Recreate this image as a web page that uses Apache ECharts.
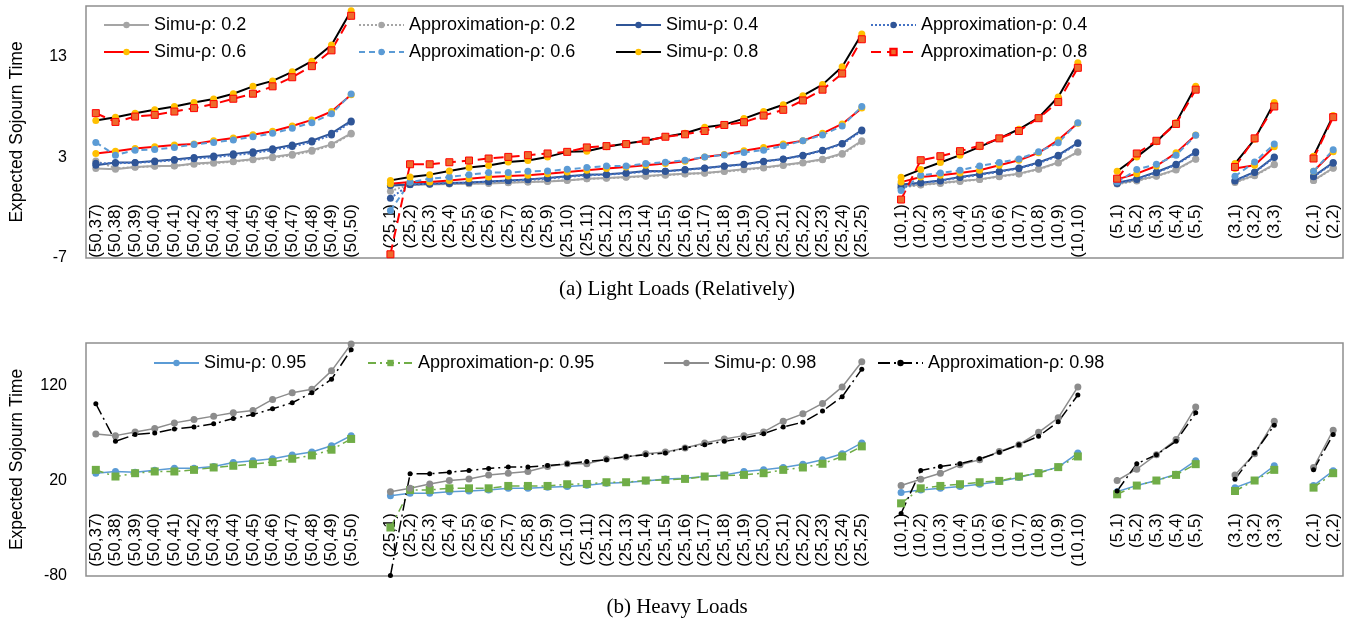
<!DOCTYPE html>
<html><head><meta charset="utf-8">
<script src="https://cdn.jsdelivr.net/npm/echarts@6/dist/echarts.min.js"></script>
<style>html,body{margin:0;padding:0;background:#fff}#c{width:1354px;height:623px}</style>
</head><body><div id="c"></div>
<script>
const categories = [
'(50,37)','(50,38)','(50,39)','(50,40)','(50,41)','(50,42)','(50,43)','(50,44)','(50,45)','(50,46)','(50,47)','(50,48)','(50,49)','(50,50)','',
'(25,1)','(25,2)','(25,3)','(25,4)','(25,5)','(25,6)','(25,7)','(25,8)','(25,9)','(25,10)','(25,11)','(25,12)','(25,13)','(25,14)','(25,15)','(25,16)','(25,17)','(25,18)','(25,19)','(25,20)','(25,21)','(25,22)','(25,23)','(25,24)','(25,25)','',
'(10,1)','(10,2)','(10,3)','(10,4)','(10,5)','(10,6)','(10,7)','(10,8)','(10,9)','(10,10)','',
'(5,1)','(5,2)','(5,3)','(5,4)','(5,5)','',
'(3,1)','(3,2)','(3,3)','',
'(2,1)','(2,2)'];

// Light loads
const simu02 = [1.87,1.8,2.03,2.13,2.13,2.37,2.47,2.6,2.8,3.03,3.3,3.7,4.27,5.37, null, 0.17,0.27,0.3,0.33,0.37,0.4,0.47,0.53,0.6,0.7,0.87,0.93,1.03,1.13,1.27,1.37,1.43,1.6,1.8,1.97,2.23,2.47,2.8,3.37,4.63, null, 0.13,0.27,0.43,0.63,0.8,1.1,1.37,1.83,2.47,3.53, null, 0.37,0.7,1.13,1.77,2.83, null, 0.53,1.2,2.3, null, 0.7,1.93];
const approx02 = [2.63,1.9,2.0,2.1,2.15,2.3,2.4,2.55,2.75,2.95,3.2,3.6,4.2,5.3, null, -0.37,0.3,0.33,0.36,0.4,0.43,0.5,0.55,0.62,0.72,0.85,0.92,1.0,1.1,1.22,1.33,1.42,1.57,1.75,1.93,2.18,2.43,2.75,3.3,4.55, null, 0.0,0.25,0.4,0.6,0.78,1.07,1.33,1.8,2.43,3.5, null, 0.33,0.65,1.1,1.73,2.8, null, 0.5,1.15,2.25, null, 0.68,1.9];
const simu04 = [2.2,2.47,2.47,2.63,2.77,2.97,3.13,3.33,3.53,3.83,4.2,4.63,5.37,6.6, null, 0.2,0.3,0.37,0.43,0.5,0.6,0.7,0.8,0.93,1.1,1.27,1.3,1.43,1.63,1.6,1.77,1.93,2.13,2.3,2.6,2.83,3.2,3.7,4.37,5.7, null, 0.3,0.47,0.7,1.03,1.3,1.6,1.93,2.47,3.2,4.43, null, 0.47,0.87,1.53,2.3,3.53, null, 0.7,1.53,3.03, null, 1.1,2.47];
const approx04 = [2.4,2.4,2.45,2.55,2.7,2.85,3.0,3.2,3.4,3.7,4.05,4.5,5.2,6.5, null, -1.07,0.3,0.35,0.4,0.48,0.57,0.66,0.76,0.88,1.05,1.2,1.27,1.4,1.57,1.6,1.73,1.9,2.1,2.27,2.55,2.8,3.15,3.65,4.3,5.6, null, -0.03,0.45,0.65,0.98,1.25,1.55,1.88,2.4,3.12,4.35, null, 0.4,0.8,1.45,2.25,3.45, null, 0.65,1.48,2.98, null, 1.05,2.4];
const simu06 = [3.37,3.6,3.87,4.03,4.2,4.3,4.63,4.9,5.23,5.57,6.1,6.7,7.53,9.2, null, 0.37,0.53,0.53,0.7,0.87,1.03,1.13,1.2,1.37,1.53,1.7,1.87,2.03,2.2,2.37,2.6,3.03,3.27,3.63,3.97,4.3,4.63,5.37,6.3,7.87, null, 0.53,1.03,1.2,1.43,1.7,2.2,2.7,3.43,4.7,6.37, null, 0.8,1.37,2.13,3.43,5.2, null, 1.87,2.2,4.03, null, 1.6,3.55];
const approx06 = [4.47,3.2,3.7,3.77,3.97,4.27,4.47,4.7,5.03,5.37,5.87,6.43,7.3,9.27, null, -2.3,0.53,0.87,1.03,1.27,1.47,1.47,1.6,1.63,1.8,1.97,2.13,2.13,2.37,2.5,2.7,3.03,3.23,3.47,3.7,4.13,4.63,5.2,6.1,8.03, null, -0.3,1.2,1.43,1.7,2.13,2.47,2.83,3.53,4.43,6.43, null, 0.53,1.77,2.3,3.2,5.17, null, 1.1,2.53,4.3, null, 1.6,3.73];
const simu08 = [6.63,6.97,7.37,7.7,8.03,8.43,8.77,9.3,10.03,10.57,11.47,12.53,14.13,17.53, null, 0.7,1.03,1.27,1.63,1.97,2.17,2.53,2.67,3.03,3.53,3.6,4.03,4.37,4.63,5.03,5.37,5.97,6.23,6.83,7.53,8.2,9.1,10.2,11.97,15.23, null, 1.0,1.77,2.47,3.2,4.03,4.87,5.77,6.93,8.97,12.37, null, 1.6,3.03,4.53,6.43,10.03, null, 2.37,4.77,8.43, null, 3.1,7.13];
const approx08 = [7.37,6.5,7.03,7.2,7.53,7.87,8.27,8.8,9.3,10.03,10.93,12.03,13.6,17.03, null, -6.63,2.3,2.3,2.5,2.67,2.87,3.03,3.2,3.37,3.53,3.97,4.1,4.3,4.63,5.03,5.27,5.6,6.2,6.47,7.13,7.7,8.63,9.7,11.3,14.7, null, -1.2,2.7,3.1,3.6,4.13,4.87,5.6,6.87,8.47,11.87, null, 0.87,3.37,4.63,6.3,9.7, null, 2.03,4.87,8.03, null, 2.87,6.97];

// Heavy loads
const simu095 = [28.1,29.9,29.2,31.3,33.4,33.4,35.2,39.4,41.2,43.3,47.2,50.3,57.0,67.6, null, 4.5,7.0,7.0,8.7,9.4,10.5,12.2,12.2,13.3,14.0,15.4,17.5,18.2,20.0,22.1,22.8,24.6,26.3,29.9,31.6,34.1,37.6,42.2,48.6,59.9, null, 7.7,10.5,12.2,14.0,16.5,19.3,23.5,28.8,34.5,49.3, null, 8.7,15.1,20.4,27.1,41.2, null, 12.9,20.4,35.9, null, 15.1,30.6];
const approx095 = [31.6,24.6,28.1,29.9,29.9,31.6,34.1,35.9,37.6,39.8,43.3,46.8,52.8,64.1, null, -29.0,10.5,10.5,12.2,12.2,12.2,14.7,14.7,14.7,16.5,16.8,18.6,18.6,20.4,21.1,22.1,24.6,25.6,26.3,28.1,31.6,34.1,38.0,45.7,56.3, null, -3.6,12.2,14.7,16.5,18.6,20.0,24.6,28.1,34.5,45.7, null, 5.9,15.1,20.4,26.3,37.6, null, 9.4,20.4,31.6, null, 12.9,28.1];
const simu098 = [69.4,67.6,71.5,75.0,81.0,84.6,88.1,91.6,94.1,105.7,112.8,116.3,135.7,163.9, null, 8.7,12.2,16.8,20.4,22.1,26.3,28.1,29.9,35.2,38.0,38.0,42.9,45.0,48.6,50.3,54.6,59.9,64.1,67.6,71.5,82.8,90.5,101.5,118.8,145.2, null, 15.1,21.8,28.1,36.9,42.2,51.0,58.1,71.1,86.3,118.8, null, 20.4,32.3,47.5,63.4,97.6, null, 26.3,48.6,82.8, null, 34.1,73.3];
const approx098 = [101.1,61.6,68.7,70.4,74.7,76.8,80.0,85.6,89.8,95.8,102.2,112.8,126.9,157.9, null, -79.5,27.4,27.4,29.2,30.9,33.1,34.5,34.5,36.2,38.0,40.5,42.2,45.7,47.5,49.3,54.6,58.1,61.6,65.1,69.7,76.8,81.7,93.4,108.5,137.5, null, -14.2,30.9,35.2,38.0,43.3,50.0,58.1,66.9,82.1,110.3, null, 9.4,38.0,47.5,61.6,91.6, null, 21.8,49.3,78.6, null, 31.6,68.7];

const FONT = 'Liberation Sans';
const chart = echarts.init(document.getElementById('c'), null, {renderer:'canvas'});

function ln(name, data, gi, color, lineType, symColor, symbol, symSize, width, border) {
  return {
    name, type:'line', data, xAxisIndex:gi, yAxisIndex:gi,
    symbol: symbol || 'circle', symbolSize: symSize || 7,
    lineStyle:{color, width: width || 2, type: lineType},
    itemStyle:{color: symColor || color, borderColor: border || (symColor || color), borderWidth: border ? 1 : 0},
    connectNulls:false, animation:false
  };
}
function lg(name, left, top) {
  return {data:[name], left, top, padding:0, itemWidth:45, itemHeight:8, itemGap:0,
    textStyle:{fontSize:18, fontFamily:FONT, color:'#000'}};
}
const yAx = (min, max, interval) => ({
  type:'value', min, max, interval, gridIndex:0,
  axisLine:{show:false}, axisTick:{show:false}, splitLine:{show:false},
  axisLabel:{showMaxLabel:false, fontSize:16, fontFamily:FONT, color:'#000', margin:19},
  name:'Expected Sojourn Time', nameLocation:'middle', nameGap:60,
  nameTextStyle:{fontSize:17.5, fontFamily:FONT, color:'#000'}
});
const xAx = (gi, offset) => ({
  type:'category', data:categories, gridIndex:gi, offset, boundaryGap:true,
  axisLine:{show:false}, axisTick:{show:false}, splitLine:{show:false},
  axisLabel:{interval:0, rotate:90, fontSize:17, fontFamily:FONT, color:'#000', margin:2}
});

const y0 = yAx(-7, 18, 10); y0.gridIndex = 0;
const y1 = yAx(-80, 165, 100); y1.gridIndex = 1;

chart.setOption({
  animation:false,
  grid:[
    {left:82, top:6, width:1261, height:252, show:true, borderColor:'#8e8e8e', borderWidth:1.5},
    {left:82, top:343, width:1261, height:233, show:true, borderColor:'#8e8e8e', borderWidth:1.5}
  ],
  xAxis:[xAx(0, -56), xAx(1, -65)],
  yAxis:[y0, y1],
  legend:[
    lg('Simu-ρ: 0.2', 103, 16), lg('Approximation-ρ: 0.2', 358, 16), lg('Simu-ρ: 0.4', 615, 16), lg('Approximation-ρ: 0.4', 870, 16),
    lg('Simu-ρ: 0.6', 103, 43), lg('Approximation-ρ: 0.6', 358, 43), lg('Simu-ρ: 0.8', 615, 43), lg('Approximation-ρ: 0.8', 870, 43),
    lg('Simu-ρ: 0.95', 153, 354), lg('Approximation-ρ: 0.95', 367, 354), lg('Simu-ρ: 0.98', 663, 354), lg('Approximation-ρ: 0.98', 877, 354)
  ],
  series:[
    ln('Simu-ρ: 0.2', simu02, 0, '#A5A5A5', 'solid'),
    ln('Approximation-ρ: 0.2', approx02, 0, '#A5A5A5', 'dotted'),
    ln('Simu-ρ: 0.4', simu04, 0, '#2F5597', 'solid'),
    ln('Approximation-ρ: 0.4', approx04, 0, '#4472C4', 'dotted', '#2F5597'),
    ln('Simu-ρ: 0.6', simu06, 0, '#FF0000', 'solid', '#FFC000'),
    ln('Approximation-ρ: 0.6', approx06, 0, '#5B9BD5', [6,4]),
    ln('Simu-ρ: 0.8', simu08, 0, '#000000', 'solid', '#FFC000'),
    ln('Approximation-ρ: 0.8', approx08, 0, '#FF0000', [10,6], '#EE6A2C', 'rect', 7, 2, '#FF0000'),
    ln('Simu-ρ: 0.95', simu095, 1, '#5B9BD5', 'solid', '#5B9BD5', 'circle', 7, 1.5),
    ln('Approximation-ρ: 0.95', approx095, 1, '#70AD47', [8,4,2,4], '#70AD47', 'rect', 8, 1.5),
    ln('Simu-ρ: 0.98', simu098, 1, '#8C8C8C', 'solid', '#8C8C8C', 'circle', 7, 1.5),
    ln('Approximation-ρ: 0.98', approx098, 1, '#000000', [12,4,2,4], '#000000', 'circle', 5, 1.5)
  ],
  graphic:[
    {type:'text', left:'center', top:279, style:{text:'(a) Light Loads (Relatively)', font:'21px "Liberation Serif"', fill:'#000'}},
    {type:'text', left:'center', top:597, style:{text:'(b) Heavy Loads', font:'21px "Liberation Serif"', fill:'#000'}}
  ]
});
</script></body></html>
